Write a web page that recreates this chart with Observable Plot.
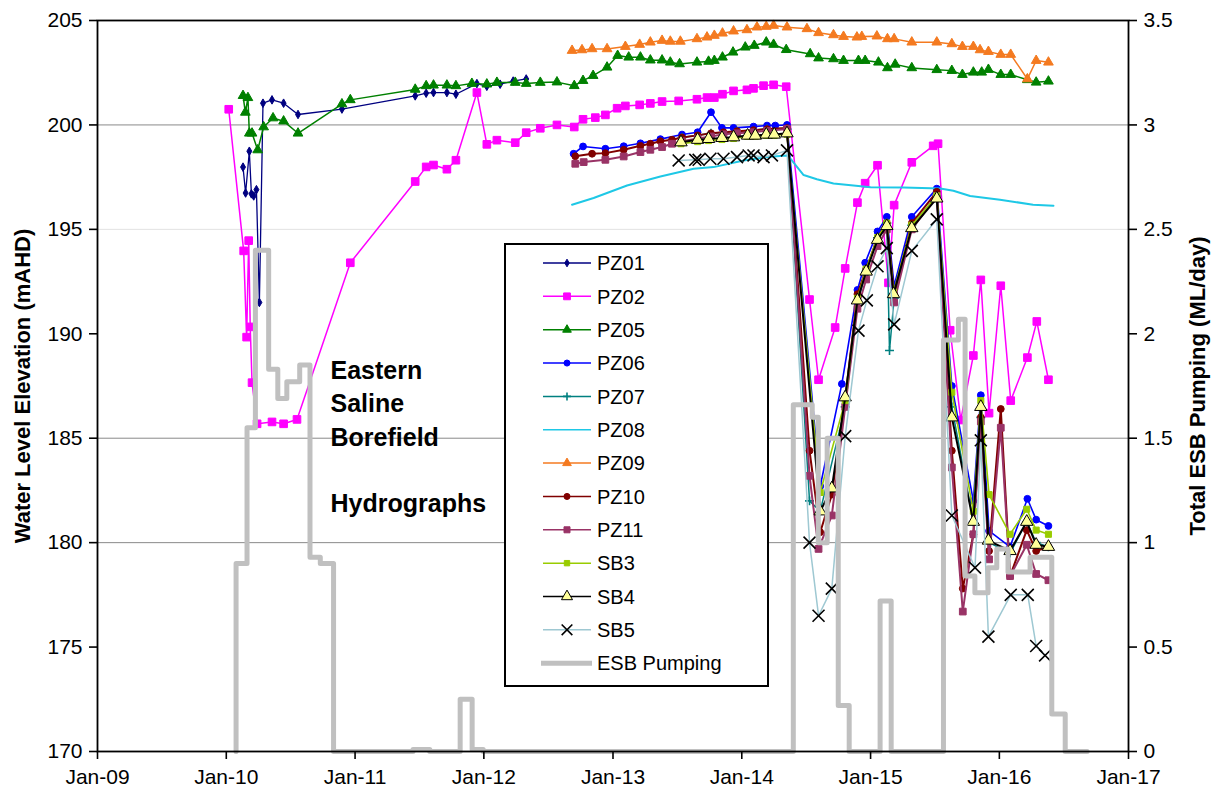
<!DOCTYPE html>
<html><head><meta charset="utf-8">
<script src="https://cdn.jsdelivr.net/npm/d3@7"></script>
<script src="https://cdn.jsdelivr.net/npm/@observablehq/plot@0.6"></script>
<style>
body{margin:0;background:#fff;}
#chart{position:relative;width:1222px;height:796px;}
</style></head><body><div id="chart"></div>
<script>
// ---- data: [decimal year, water level mAHD] ----
const PZ01 = [[2010.130,197.98],[2010.150,196.74],[2010.179,198.74],[2010.195,196.7],[2010.213,196.6],[2010.234,196.9],[2010.257,191.5],[2010.285,201.04],[2010.355,201.2],[2010.445,201.04],[2010.557,200.5],[2010.898,200.76],[2011.467,201.39],[2011.552,201.52],[2011.609,201.55],[2011.713,201.55],[2011.783,201.47],[2011.946,201.98],[2012.023,201.85],[2012.126,201.95],[2012.227,202.1],[2012.328,202.2]];
const PZ02 = [[2010.019,200.75],[2010.135,193.97],[2010.158,189.84],[2010.174,194.46],[2010.186,190.33],[2010.200,187.66],[2010.239,185.69],[2010.355,185.78],[2010.445,185.69],[2010.549,185.9],[2010.963,193.4],[2011.467,197.29],[2011.552,197.99],[2011.609,198.08],[2011.713,197.88],[2011.783,198.31],[2011.946,201.55],[2012.023,199.07],[2012.101,199.27],[2012.243,199.15],[2012.328,199.63],[2012.437,199.84],[2012.566,200.0],[2012.700,199.9],[2012.768,200.27],[2012.863,200.35],[2012.941,200.48],[2013.032,200.8],[2013.096,200.91],[2013.207,200.96],[2013.290,201.03],[2013.381,201.12],[2013.510,201.15],[2013.652,201.23],[2013.730,201.31],[2013.787,201.31],[2013.850,201.47],[2013.936,201.63],[2014.040,201.68],[2014.091,201.75],[2014.169,201.88],[2014.247,201.92],[2014.345,201.83],[2014.526,191.64],[2014.596,187.8],[2014.725,190.3],[2014.803,193.13],[2014.898,196.28],[2014.958,197.21],[2015.054,198.07],[2015.139,192.44],[2015.183,196.16],[2015.320,198.21],[2015.486,199.0],[2015.524,199.1],[2015.618,190.17],[2015.700,185.87],[2015.798,188.96],[2015.856,192.58],[2015.920,186.2],[2016.011,192.3],[2016.088,186.8],[2016.217,188.86],[2016.290,190.59],[2016.380,187.8]];
const PZ05 = [[2010.130,201.4],[2010.148,200.6],[2010.168,201.3],[2010.179,199.6],[2010.200,199.6],[2010.244,198.8],[2010.290,199.9],[2010.363,200.33],[2010.445,200.18],[2010.557,199.6],[2010.898,201.0],[2010.963,201.2],[2011.467,201.7],[2011.552,201.87],[2011.609,201.9],[2011.713,201.9],[2011.783,201.87],[2011.907,201.98],[2012.023,201.95],[2012.101,202.03],[2012.243,202.03],[2012.328,201.98],[2012.437,202.03],[2012.566,202.05],[2012.700,201.875],[2012.768,202.12],[2012.846,202.36],[2012.954,202.76],[2013.036,203.32],[2013.122,203.24],[2013.213,203.24],[2013.290,203.1],[2013.381,203.1],[2013.445,203.0],[2013.517,202.92],[2013.652,203.0],[2013.742,203.04],[2013.787,203.08],[2013.850,203.24],[2013.932,203.48],[2014.027,203.72],[2014.097,203.8],[2014.190,203.96],[2014.247,203.85],[2014.345,203.6],[2014.531,203.4],[2014.596,203.2],[2014.712,203.16],[2014.790,203.08],[2014.906,203.08],[2014.958,203.08],[2015.061,203.0],[2015.131,202.73],[2015.191,202.9],[2015.320,202.73],[2015.514,202.64],[2015.631,202.6],[2015.713,202.41],[2015.798,202.52],[2015.863,202.52],[2015.915,202.65],[2016.011,202.41],[2016.088,202.41],[2016.217,202.16],[2016.285,202.04],[2016.380,202.09]];
const PZ06 = [[2012.695,198.62],[2012.768,198.97],[2012.941,198.86],[2013.083,198.98],[2013.213,199.12],[2013.368,199.32],[2013.536,199.54],[2013.657,199.65],[2013.761,200.61],[2013.846,199.86],[2013.936,199.86],[2014.091,199.92],[2014.196,199.97],[2014.260,199.97],[2014.351,200.0],[2014.609,182.7],[2014.777,187.6],[2014.898,192.1],[2014.958,193.4],[2015.054,194.9],[2015.126,195.6],[2015.183,192.3],[2015.320,195.6],[2015.514,196.95],[2015.631,187.5],[2015.798,182.0],[2015.856,187.06],[2015.920,180.56],[2016.083,179.8],[2016.217,182.1],[2016.285,181.1],[2016.380,180.8]];
const PZ07 = [[2013.536,199.4],[2013.761,199.6],[2013.963,199.7],[2014.196,199.8],[2014.351,199.8],[2014.526,182.0],[2014.609,181.5],[2014.803,186.5],[2014.898,191.5],[2014.966,193.0],[2015.054,194.6],[2015.126,195.3],[2015.147,189.2],[2015.183,191.7],[2015.320,195.2],[2015.514,196.6],[2015.631,186.5],[2015.798,181.0],[2015.856,186.0],[2015.920,180.0],[2016.083,179.5],[2016.212,181.0],[2016.285,180.0],[2016.380,179.8]];
const PZ08 = [[2012.683,196.18],[2012.850,196.5],[2013.109,197.1],[2013.368,197.53],[2013.626,197.9],[2013.781,197.98],[2014.014,198.3],[2014.196,198.46],[2014.351,198.54],[2014.376,198.4],[2014.480,197.6],[2014.583,197.4],[2014.712,197.2],[2014.867,197.1],[2015.0,197.02],[2015.255,197.0],[2015.540,196.96],[2015.643,196.85],[2015.773,196.6],[2016.005,196.42],[2016.261,196.18],[2016.419,196.13]];
const PZ09 = [[2012.683,203.56],[2012.760,203.59],[2012.838,203.64],[2012.954,203.64],[2013.096,203.75],[2013.207,203.85],[2013.290,203.96],[2013.381,204.04],[2013.445,204.0],[2013.523,204.0],[2013.652,204.12],[2013.730,204.2],[2013.787,204.28],[2013.850,204.39],[2013.936,204.49],[2014.040,204.55],[2014.118,204.68],[2014.190,204.71],[2014.247,204.76],[2014.351,204.68],[2014.506,204.6],[2014.596,204.41],[2014.712,204.31],[2014.790,204.23],[2014.894,204.2],[2014.932,204.23],[2015.049,204.25],[2015.131,204.12],[2015.183,204.12],[2015.320,203.96],[2015.514,203.96],[2015.631,203.88],[2015.713,203.75],[2015.798,203.75],[2015.850,203.59],[2015.915,203.51],[2016.011,203.37],[2016.088,203.37],[2016.217,202.2],[2016.285,203.08],[2016.380,203.0]];
const PZ10 = [[2012.708,198.5],[2012.838,198.62],[2012.941,198.65],[2013.083,198.81],[2013.213,199.0],[2013.290,199.1],[2013.368,199.22],[2013.458,199.29],[2013.536,199.4],[2013.657,199.5],[2013.761,199.6],[2013.858,199.65],[2013.963,199.7],[2014.091,199.75],[2014.196,199.8],[2014.351,199.85],[2014.526,184.4],[2014.609,180.5],[2014.699,182.3],[2014.803,186.9],[2014.898,191.9],[2014.966,193.1],[2015.054,194.6],[2015.126,195.3],[2015.183,191.9],[2015.320,195.3],[2015.514,196.8],[2015.631,184.4],[2015.716,177.8],[2015.798,180.4],[2015.856,186.0],[2015.920,179.6],[2016.011,186.4],[2016.083,178.4],[2016.212,180.6],[2016.285,179.6],[2016.380,179.8]];
const PZ11 = [[2012.708,198.14],[2012.773,198.22],[2012.941,198.33],[2013.083,198.49],[2013.213,198.7],[2013.290,198.81],[2013.381,198.94],[2013.458,199.1],[2013.536,199.22],[2013.657,199.35],[2013.761,199.45],[2013.858,199.55],[2013.963,199.6],[2014.091,199.65],[2014.196,199.72],[2014.351,199.81],[2014.526,183.2],[2014.596,179.7],[2014.699,181.3],[2014.803,186.5],[2014.898,191.2],[2014.966,192.6],[2015.054,194.2],[2015.126,195.0],[2015.183,191.5],[2015.320,195.0],[2015.514,196.6],[2015.631,183.6],[2015.716,176.7],[2015.798,180.4],[2015.856,185.8],[2015.920,179.2],[2016.011,185.5],[2016.083,178.4],[2016.212,179.9],[2016.285,178.5],[2016.380,178.2]];
const SB3 = [[2013.528,199.1],[2013.657,199.2],[2013.742,199.25],[2013.846,199.3],[2013.936,199.35],[2014.045,199.45],[2014.105,199.45],[2014.190,199.5],[2014.252,199.5],[2014.351,199.55],[2014.609,182.4],[2014.803,186.8],[2014.898,191.7],[2014.966,193.1],[2015.054,194.6],[2015.126,195.3],[2015.178,192.0],[2015.320,195.2],[2015.514,196.6],[2015.631,187.2],[2015.798,181.5],[2015.856,186.8],[2015.920,182.3],[2016.083,180.4],[2016.212,181.6],[2016.285,180.6],[2016.380,180.4]];
const SB4 = [[2013.528,199.17],[2013.657,199.29],[2013.742,199.33],[2013.846,199.38],[2013.936,199.41],[2014.045,199.49],[2014.105,199.49],[2014.190,199.54],[2014.252,199.54],[2014.351,199.6],[2014.609,181.5],[2014.699,182.6],[2014.803,186.96],[2014.898,191.6],[2014.966,192.98],[2015.054,194.5],[2015.126,195.16],[2015.178,191.9],[2015.320,195.06],[2015.514,196.48],[2015.631,186.0],[2015.798,181.0],[2015.856,186.5],[2015.915,180.1],[2016.083,179.6],[2016.212,181.0],[2016.285,179.9],[2016.380,179.8]];
const SB5 = [[2013.510,198.3],[2013.639,198.33],[2013.665,198.33],[2013.756,198.38],[2013.858,198.38],[2013.963,198.46],[2014.053,198.54],[2014.091,198.54],[2014.169,198.46],[2014.234,198.54],[2014.351,198.78],[2014.526,180.0],[2014.596,176.5],[2014.699,177.8],[2014.803,185.1],[2014.906,190.15],[2014.971,191.6],[2015.054,193.23],[2015.126,194.1],[2015.183,190.45],[2015.320,193.97],[2015.514,195.48],[2015.631,181.3],[2015.811,178.8],[2015.856,184.9],[2015.915,175.5],[2016.088,177.5],[2016.220,177.5],[2016.285,175.05],[2016.354,174.6]];
// ESB pumping, ML/day, step values [decimal year, value]
const ESB_PUMPING = [[2010.076,0],[2010.076,0.9],[2010.161,1.55],[2010.226,2.4],[2010.329,1.83],[2010.40,1.69],[2010.47,1.77],[2010.57,1.85],[2010.65,0.93],[2010.73,0.9],[2010.833,0],[2011.45,0.01],[2011.58,0],[2011.816,0.25],[2011.909,0.01],[2011.995,0],[2014.40,1.66],[2014.547,1.6],[2014.594,1.0],[2014.663,1.5],[2014.749,0.22],[2014.834,0],[2015.074,0.72],[2015.16,0],[2015.566,1.97],[2015.682,2.07],[2015.734,0.84],[2015.81,0.76],[2015.912,0.88],[2015.98,0.97],[2016.067,0.86],[2016.238,0.93],[2016.406,0.18],[2016.51,0],[2016.68,0]];

const xTickYears = [2009,2010,2011,2012,2013,2014,2015,2016,2017];
const xTickLabels = ["Jan-09","Jan-10","Jan-11","Jan-12","Jan-13","Jan-14","Jan-15","Jan-16","Jan-17"];
const levelTicks = [170,175,180,185,190,195,200,205];
const pumpTickLabels = ["0","0.5","1","1.5","2","2.5","3","3.5"];
const seriesNames = ["PZ01","PZ02","PZ05","PZ06","PZ07","PZ08","PZ09","PZ10","PZ11","SB3","SB4","SB5"];
const seriesData = [PZ01,PZ02,PZ05,PZ06,PZ07,PZ08,PZ09,PZ10,PZ11,SB3,SB4,SB5];

// ---- styles ----
const styles = {
  PZ01:{line:"#000080",lw:1.3,symbol:"diamond",r:2.6,fill:"#000080",stroke:"#000080"},
  PZ02:{line:"#ff00ff",lw:1.5,symbol:"square",r:4.3,fill:"#ff00ff",stroke:"#ff00ff"},
  PZ05:{line:"#008000",lw:1.5,symbol:"triangle",r:3.6,fill:"#008000",stroke:"#008000"},
  PZ06:{line:"#0000ff",lw:1.6,symbol:"circle",r:3.4,fill:"#0000ff",stroke:"#0000ff"},
  PZ07:{line:"#008080",lw:1.5,symbol:"plus",r:3,fill:"none",stroke:"#008080"},
  PZ08:{line:"#1ec8e6",lw:2,symbol:null},
  PZ09:{line:"#f47a20",lw:1.5,symbol:"triangle",r:3.6,fill:"#f47a20",stroke:"#f47a20"},
  PZ10:{line:"#800000",lw:2,symbol:"circle",r:3.4,fill:"#800000",stroke:"#800000"},
  PZ11:{line:"#993366",lw:2,symbol:"square",r:3.8,fill:"#993366",stroke:"#993366"},
  SB3:{line:"#99cc00",lw:1.6,symbol:"square",r:3.4,fill:"#99cc00",stroke:"#99cc00"},
  SB4:{line:"#000000",lw:2,symbol:"triangle",r:4.6,fill:"#ffff99",stroke:"#000000"},
  SB5:{line:"#9ec8d2",lw:1.5,symbol:"times",r:5.5,fill:"none",stroke:"#000000"}
};
const pumpStyle = {line:"#c0c0c0",lw:5};

function toDate(y){const yr=Math.floor(y);const a=Date.UTC(yr,0,1),b=Date.UTC(yr+1,0,1);return new Date(a+(y-yr)*(b-a));}
const FONT = "'Liberation Sans', Arial, sans-serif";

const marks = [
  Plot.ruleY([195],{stroke:"#e2e2e2",strokeWidth:1}),
  Plot.ruleY([200,185,180],{stroke:"#8a8a8a",strokeWidth:1})
];
seriesNames.forEach((name,i)=>{
  const s = styles[name], data = seriesData[i];
  marks.push(Plot.line(data,{x:d=>toDate(d[0]),y:d=>d[1],stroke:s.line,strokeWidth:s.lw}));
  if (s.symbol) marks.push(Plot.dot(data,{x:d=>toDate(d[0]),y:d=>d[1],symbol:s.symbol,r:s.r,fill:s.fill,stroke:s.stroke,strokeWidth:s.symbol==="times"||s.symbol==="plus"?1.6:1}));
});
marks.push(Plot.line(ESB_PUMPING,{x:d=>toDate(d[0]),y:d=>170+d[1]*10,curve:"step-after",stroke:pumpStyle.line,strokeWidth:pumpStyle.lw}));
marks.push(
  Plot.frame({stroke:"#000",strokeWidth:1.8}),
  Plot.axisX({ticks:xTickYears.map(toDate),tickFormat:(d,i)=>xTickLabels[i],tickSize:8,tickPadding:10,fontSize:21,label:null,strokeWidth:1.6}),
  Plot.axisY({anchor:"left",ticks:levelTicks,tickFormat:(d,i)=>String(levelTicks[i]),tickSize:8,tickPadding:7,fontSize:21,label:null,strokeWidth:1.6}),
  Plot.axisY({anchor:"right",ticks:levelTicks,tickFormat:(d,i)=>pumpTickLabels[i],tickSize:8,tickPadding:7,fontSize:21,label:null,strokeWidth:1.6}),
  Plot.text(["Water Level Elevation (mAHD)"],{text:d=>d,frameAnchor:"left",textAnchor:"middle",dx:-75,rotate:-90,fontSize:22,fontWeight:"bold"}),
  Plot.text(["Total ESB Pumping (ML/day)"],{text:d=>d,frameAnchor:"right",textAnchor:"middle",dx:69,rotate:-90,fontSize:22,fontWeight:"bold"}),
  Plot.text(["Eastern\nSaline\nBorefield\n\nHydrographs"],{text:d=>d,frameAnchor:"top-left",dx:233,dy:335,textAnchor:"start",lineAnchor:"top",lineHeight:1.33,fontSize:25,fontWeight:"bold"})
);

const chart = Plot.plot({
  width:1222, height:796,
  marginLeft:97, marginRight:94, marginTop:20, marginBottom:45,
  style:{fontFamily:FONT,background:"#fff",color:"#000",overflow:"visible"},
  x:{type:"utc",domain:[toDate(2009),toDate(2017)]},
  y:{domain:[170,205]},
  marks
});
document.getElementById("chart").appendChild(chart);

// ---- legend ----
const symMap = {diamond:d3.symbolDiamond,square:d3.symbolSquare,triangle:d3.symbolTriangle,circle:d3.symbolCircle,plus:d3.symbolPlus,times:d3.symbolTimes};
const svg = d3.select(chart);
const lg = svg.append("g").attr("font-family",FONT).attr("font-size",20).attr("text-anchor","start");
lg.append("rect").attr("x",505).attr("y",244).attr("width",263).attr("height",442).attr("fill","#fff").attr("stroke","#000").attr("stroke-width",2);
const items = seriesNames.concat(["ESB Pumping"]);
items.forEach((name,i)=>{
  const cy = 263 + i*33.35;
  if (name === "ESB Pumping") {
    lg.append("line").attr("x1",541).attr("x2",592).attr("y1",cy).attr("y2",cy).attr("stroke",pumpStyle.line).attr("stroke-width",pumpStyle.lw);
  } else {
    const s = styles[name];
    lg.append("line").attr("x1",543).attr("x2",591).attr("y1",cy).attr("y2",cy).attr("stroke",s.line).attr("stroke-width",1.5);
    if (s.symbol) lg.append("path").attr("transform",`translate(567,${cy})`)
      .attr("d",d3.symbol(symMap[s.symbol],Math.PI*s.r*s.r*0.8)())
      .attr("fill",s.fill).attr("stroke",s.stroke).attr("stroke-width",s.symbol==="times"||s.symbol==="plus"?1.6:1);
  }
  lg.append("text").attr("x",597).attr("y",cy).attr("dy","0.36em").attr("text-anchor","start").attr("fill","#000").text(name);
});
</script></body></html>
